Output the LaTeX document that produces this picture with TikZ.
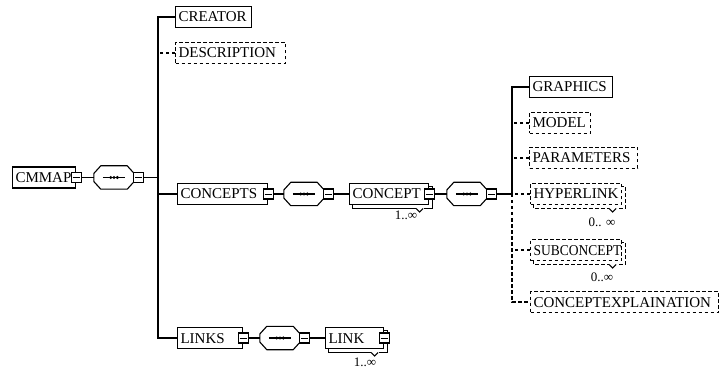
\documentclass[tikz,border=0pt]{standalone}
\usepackage{fontspec}
\setmainfont{Liberation Serif}
\usetikzlibrary{calc}
\pgfdeclarelayer{bg}
\pgfsetlayers{bg,main}
\tikzset{
  ln/.style={line width=1.1pt},
  opt/.style={dash pattern=on 3.5pt off 2.5pt},
  elem/.style={ln, draw, fill=white, anchor=west, inner xsep=3pt, inner ysep=0pt,
     minimum height=21pt, text height=10pt, text depth=0pt, align=left,
     font=\fontsize{15}{18}\selectfont},
  minus/.style={ln, draw, fill=white, minimum size=10pt, inner sep=0pt,
     path picture={\draw[line width=0.9pt] ([xshift=1.5pt]path picture bounding box.west) -- ([xshift=-1.5pt]path picture bounding box.east);}},
  seq/.style={minimum width=40pt, minimum height=23pt, inner sep=0pt},
  mult/.style={font=\fontsize{13}{15}\selectfont, inner sep=0pt},
}
\newcommand\seqdraw[1]{%
  \draw[ln,fill=white] ($(#1.west)+(0,-4)$) -- ($(#1.north west)+(7,0)$) -- ($(#1.north east)+(-7,0)$) -- ($(#1.east)+(0,-4)$) -- ($(#1.east)+(0,4)$) -- ($(#1.south east)+(-7,0)$) -- ($(#1.south west)+(7,0)$) -- ($(#1.west)+(0,4)$) -- cycle;
  \draw[ln] ($(#1.west)+(9,0)$) -- ($(#1.east)+(-9,0)$);
  \foreach \d in {-3.3,0,3.3} \fill ($(#1.center)+(\d,0)$) circle (1.7pt);
}
\newcommand\stackback[2]{%
  \begin{pgfonlayer}{bg}
  \draw[ln,fill=white,#2] ($(#1.north west)+(3.5,3.5)$) rectangle ($(#1.south east)+(3.5,3.5)$);
  \fill[white] ($(#1.south east)+(-13.5,2)$) rectangle ($(#1.south east)+(-5.5,5)$);
  \draw[ln] ($(#1.south east)+(-13,3.5)$) -- ($(#1.south east)+(-9.5,7)$) -- ($(#1.south east)+(-6,3.5)$);
  \end{pgfonlayer}
}
\begin{document}
\begin{tikzpicture}[x=1pt,y=-1pt]
\useasboundingbox (0,0) rectangle (719,371);
% root
\node[elem, text width=57pt] (cmmap) at (12,177.5) {CMMAP};
\node[minus] (m0) at (cmmap.east) {};
\node[seq] (s1) at (114,177.5) {}; \seqdraw{s1}
\node[minus, anchor=west] (m1) at ([xshift=-1pt]s1.east) {};
\coordinate (j1) at (158,177.5);
% first level
\node[elem, text width=70pt] (creator) at (175,17) {CREATOR};
\node[elem, opt, text width=104pt] (desc) at (175,53) {DESCRIPTION};
\node[elem, text width=84pt] (concepts) at (177,194) {CONCEPTS};
\node[minus] (m2) at (concepts.east) {};
\node[seq] (s2) at (304,194) {}; \seqdraw{s2}
\node[minus, anchor=west] (m3) at ([xshift=-1pt]s2.east) {};
\node[elem, text width=73pt] (concept) at (349,194) {CONCEPT};
\stackback{concept}{}
\node[minus] (m4) at (concept.east) {};
\node[seq] (s3) at (467,194) {}; \seqdraw{s3}
\node[minus, anchor=west] (m5) at ([xshift=-1pt]s3.east) {};
\coordinate (j2) at (512,194);
\node[elem, text width=59pt] (links) at (177,338) {LINKS};
\node[minus] (m6) at (links.east) {};
\node[seq] (s4) at (280,338) {}; \seqdraw{s4}
\node[minus, anchor=west] (m7) at ([xshift=-1pt]s4.east) {};
\node[elem, text width=52pt] (link) at (325,338) {LINK};
\stackback{link}{}
\node[minus] (m8) at (link.east) {};
% concept children
\node[elem, text width=77pt] (graphics) at (529,87) {GRAPHICS};
\node[elem, opt, text width=55pt] (model) at (529,123) {MODEL};
\node[elem, opt, text width=102pt] (params) at (529,158) {PARAMETERS};
\node[elem, opt, text width=85pt] (hyper) at (530,194) {HYPERLINK};
\stackback{hyper}{opt}
\node[elem, opt, text width=85pt] (subc) at (530,250) {\scalebox{0.9}[1]{SUBCONCEPT}};
\stackback{subc}{opt}
\node[elem, opt, text width=182pt] (cexp) at (530,302) {CONCEPTEXPLAINATION};
% multiplicities
\node[mult] (l1) at (406,215) {1..∞};
\node[mult] (l2) at (365,362) {1..∞};
\node[mult] (l3) at (602,222) {0.. ∞};
\node[mult] (l4) at (602,277) {0..∞};
% connectors
\draw[ln] (m0) -- (s1);
\draw[ln] (m1) -- (j1);
\draw[ln] (creator.west) -| (j1) |- (links.west);
\draw[ln,opt] (desc.west) -- (desc.west -| j1);
\draw[ln] (concepts.west) -- (concepts.west -| j1);
\draw[ln] (m2) -- (s2);
\draw[ln] (m3) -- (concept);
\draw[ln] (m4) -- (s3);
\draw[ln] (m5) -- (j2);
\draw[ln] (m6) -- (s4);
\draw[ln] (m7) -- (link);
\draw[ln] (graphics.west) -| (j2);
\draw[ln,opt] (j2) |- (cexp.west);
\draw[ln,opt] (model.west) -- (model.west -| j2);
\draw[ln,opt] (params.west) -- (params.west -| j2);
\draw[ln,opt] (hyper.west) -- (j2);
\draw[ln,opt] (subc.west) -- (subc.west -| j2);
\end{tikzpicture}
\end{document}
